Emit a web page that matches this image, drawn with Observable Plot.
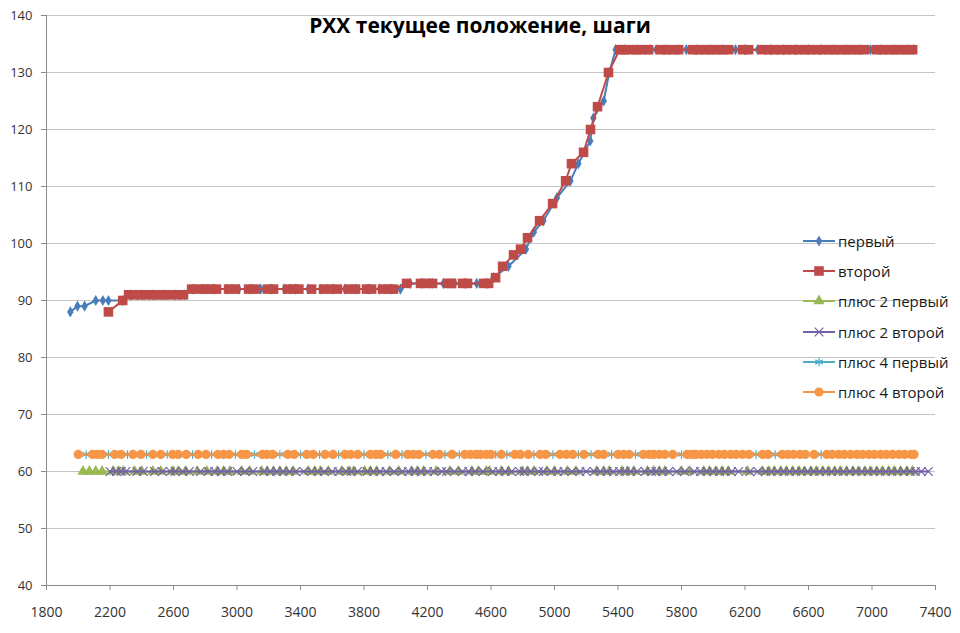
<!DOCTYPE html>
<html><head><meta charset="utf-8">
<script src="https://cdn.jsdelivr.net/npm/d3@7"></script>
<script src="https://cdn.jsdelivr.net/npm/@observablehq/plot@0.6"></script>
<style>
body{margin:0;background:#fff;}
#wrap{position:relative;width:960px;height:633px;font-family:"Open Sans",sans-serif;overflow:hidden;}
#title{position:absolute;left:0;width:960px;top:11px;text-align:center;font-weight:bold;font-size:21px;color:#000;}
#legend{position:absolute;left:802px;top:226px;}
.row{height:30.2px;display:flex;align-items:center;font-size:15px;color:#1a1a1a;}
.row svg{margin-right:2px;}
</style></head><body>
<div id="wrap"><div id="chart"></div><div id="title">РХХ текущее положение, шаги</div><div id="legend"></div></div>
<script>
const xTicks = [1800,2200,2600,3000,3400,3800,4200,4600,5000,5400,5800,6200,6600,7000,7400];
const yTicks = [40,50,60,70,80,90,100,110,120,130,140];
const seriesNames = ["первый","второй","плюс 2 первый","плюс 2 второй","плюс 4 первый","плюс 4 второй"];

const firstX = [1950,1995,2040,2110,2155,2190,2280,2330,2400,2470,2540,2610,2670,2720,2790,2860,2940,3010,3080,3150,3220,3300,3370,3450,3530,3600,3680,3750,3830,3900,3970,4030,4090,4160,4230,4300,4370,4440,4510,4580,4615,4710,4820,4870,4930,5015,5100,5150,5225,5245,5310,5345,5385,5440,5520,5600,5640,5700,5780,5830,5900,5980,6060,6140,6200,6280,6360,6440,6520,6600,6680,6760,6840,6920,6990,7060,7140,7220,7260];
const firstY = [88,89,89,90,90,90,90,91,91,91,91,91,91,92,92,92,92,92,92,92,92,92,92,92,92,92,92,92,92,92,92,92,93,93,93,93,93,93,93,93,94,96,99,102,104,108,111,114,118,122,125,130,134,134,134,134,134,134,134,134,134,134,134,134,134,134,134,134,134,134,134,134,134,134,134,134,134,134,134];

const secondX = [2190,2280,2317,2354,2392,2430,2468,2506,2543,2581,2625,2663,2714,2758,2795,2833,2871,2947,2990,3073,3115,3192,3230,3318,3356,3390,3470,3545,3589,3633,3703,3747,3816,3848,3917,3955,3986,4068,4156,4194,4232,4326,4352,4421,4452,4553,4585,4629,4673,4742,4786,4830,4906,4988,5070,5107,5183,5227,5271,5340,5410,5441,5479,5517,5555,5593,5668,5706,5744,5782,5870,5908,5945,5983,6021,6059,6097,6185,6223,6311,6349,6386,6424,6462,6500,6538,6575,6613,6651,6689,6727,6764,6802,6840,6878,6916,6953,7029,7067,7105,7142,7180,7218,7256];
const secondY = [88,90,91,91,91,91,91,91,91,91,91,91,92,92,92,92,92,92,92,92,92,92,92,92,92,92,92,92,92,92,92,92,92,92,92,92,92,93,93,93,93,93,93,93,93,93,93,94,96,98,99,101,104,107,111,114,116,120,124,130,134,134,134,134,134,134,134,134,134,134,134,134,134,134,134,134,134,134,134,134,134,134,134,134,134,134,134,134,134,134,134,134,134,134,134,134,134,134,134,134,134,134,134,134];

const plus2FirstX = [2030,2070,2110,2150,2220,2255,2285,2355,2400,2470,2520,2595,2630,2675,2750,2810,2875,2915,2955,3030,3080,3155,3190,3230,3270,3310,3355,3450,3490,3525,3575,3660,3705,3735,3805,3840,3880,3960,4020,4100,4135,4175,4255,4340,4395,4480,4520,4570,4590,4665,4710,4795,4830,4870,4950,5000,5080,5135,5265,5310,5345,5425,5460,5500,5585,5625,5660,5695,5800,5850,5940,5975,6015,6055,6095,6215,6310,6350,6385,6425,6460,6500,6540,6575,6615,6650,6690,6725,6765,6800,6840,6880,6915,6955,6990,7030,7065,7105,7140,7180,7220,7255];
const plus2FirstY = 60;

const plus2SecondX = [2200,2240,2270,2300,2370,2410,2480,2530,2580,2610,2660,2700,2770,2820,2860,2900,2940,3000,3050,3100,3170,3210,3250,3290,3330,3370,3420,3470,3510,3550,3600,3640,3690,3720,3760,3820,3860,3900,3940,3990,4040,4080,4120,4160,4200,4240,4290,4320,4370,4420,4460,4500,4550,4610,4650,4690,4730,4780,4810,4850,4900,4930,4980,5020,5060,5110,5160,5200,5250,5290,5330,5370,5410,5445,5480,5520,5570,5610,5640,5680,5720,5770,5820,5880,5920,5960,6000,6040,6075,6115,6160,6230,6280,6330,6365,6405,6445,6480,6520,6555,6595,6635,6670,6710,6745,6785,6820,6860,6900,6935,6975,7010,7050,7085,7125,7160,7200,7240,7275,7310,7355];
const plus2SecondY = 60;

const plus4FirstX = [2050,2190,2310,2430,2560,2720,2840,2990,3110,3270,3400,3520,3640,3800,3950,4040,4190,4310,4400,4630,4700,4870,4990,5150,5230,5360,5510,5800,6270,6390,6680,7265];
const plus4FirstY = 63;

const plus4SecondX = [2000,2090,2120,2150,2230,2270,2345,2395,2470,2520,2595,2630,2680,2755,2805,2880,2915,2950,3030,3060,3160,3190,3225,3320,3360,3440,3480,3555,3605,3680,3715,3760,3840,3875,3905,4000,4075,4110,4145,4235,4275,4355,4435,4470,4505,4535,4570,4600,4665,4750,4785,4835,4910,4945,5035,5075,5115,5185,5275,5310,5400,5435,5470,5560,5595,5625,5660,5695,5745,5835,5865,5890,5925,5960,5995,6035,6070,6110,6145,6185,6225,6310,6345,6435,6470,6505,6545,6580,6635,6715,6750,6790,6825,6865,6905,6940,6980,7015,7055,7090,7130,7170,7205,7245,7265];
const plus4SecondY = 63;

const mk = (xs, ys) => xs.map((x, i) => ({x, y: Array.isArray(ys) ? ys[i] : ys}));

const styles = [
  {data: mk(firstX, firstY), color: "#4A7EBB", symbol: "diamond", r: 3.4, filled: true},
  {data: mk(secondX, secondY), color: "#BE4B48", symbol: "square", r: 5.4, filled: true},
  {data: mk(plus2FirstX, plus2FirstY), color: "#98B954", symbol: "triangle", r: 4.2, filled: true},
  {data: mk(plus2SecondX, plus2SecondY), color: "#7460A8", symbol: "times", r: 4, filled: false},
  {data: mk(plus4FirstX, plus4FirstY), color: "#4BACC6", symbol: "asterisk", r: 4, filled: false},
  {data: mk(plus4SecondX, plus4SecondY), color: "#F79646", symbol: "circle", r: 4.6, filled: true}
];

const seriesMarks = styles.flatMap(s => [
  Plot.line(s.data, {x: "x", y: "y", stroke: s.color, strokeWidth: 2}),
  Plot.dot(s.data, s.filled
    ? {x: "x", y: "y", symbol: s.symbol, r: s.r, fill: s.color, stroke: "none"}
    : {x: "x", y: "y", symbol: s.symbol, r: s.r, stroke: s.color, strokeWidth: 1.2, fill: "none"})
]);

const chart = Plot.plot({
  width: 960, height: 633,
  marginLeft: 46, marginRight: 25, marginTop: 15, marginBottom: 48,
  x: {domain: [1800, 7400]},
  y: {domain: [40, 140]},
  style: {fontFamily: "'Open Sans', sans-serif", fontSize: "13px", color: "#333", background: "#fff"},
  marks: [
    Plot.gridY(yTicks, {stroke: "#c4c4c4", strokeOpacity: 1}),
    Plot.axisY(yTicks, {tickSize: 5, tickPadding: 9, stroke: "#8a8a8a", fill: "#333", fontSize: 13, label: null, tickFormat: d => String(d)}),
    Plot.axisX(xTicks, {tickSize: 5, tickPadding: 17, stroke: "#8a8a8a", fill: "#333", fontSize: 14, fontFamily: "'Liberation Sans Narrow', 'Open Sans', sans-serif", label: null, tickFormat: d => String(d)}),
    Plot.ruleY([40], {stroke: "#8a8a8a"}),
    Plot.ruleX([1800], {stroke: "#8a8a8a"}),
    ...seriesMarks
  ]
});
document.getElementById("chart").appendChild(chart);

// legend
const legend = d3.select("#legend");
const symMap = {diamond: d3.symbolDiamond, square: d3.symbolSquare, triangle: d3.symbolTriangle, times: d3.symbolTimes, asterisk: d3.symbolAsterisk, circle: d3.symbolCircle};
styles.forEach((s, i) => {
  const row = legend.append("div").attr("class", "row");
  const svg = row.append("svg").attr("width", 34).attr("height", 16);
  svg.append("line").attr("x1", 1).attr("x2", 33).attr("y1", 8).attr("y2", 8).attr("stroke", s.color).attr("stroke-width", 2);
  const path = svg.append("path").attr("transform", "translate(17,8)")
    .attr("d", d3.symbol(symMap[s.symbol], Math.PI * s.r * s.r)());
  if (s.filled) path.attr("fill", s.color); else path.attr("fill", "none").attr("stroke", s.color).attr("stroke-width", 1.2);
  row.append("span").text(seriesNames[i]);
});
</script>
</body></html>
